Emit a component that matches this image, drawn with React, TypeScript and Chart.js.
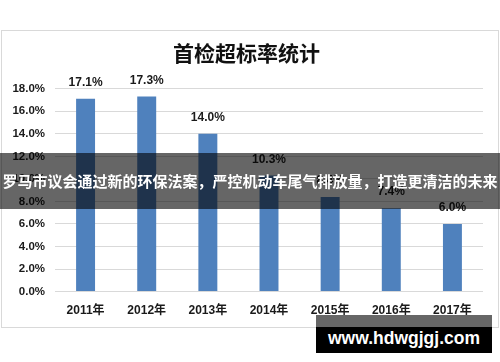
import React, { useEffect, useRef } from "react";
import { Chart, registerables } from "chart.js";

Chart.register(...registerables);

const TITLE = "首检超标率统计";
const years = ["2011年", "2012年", "2013年", "2014年", "2015年", "2016年", "2017年"];
const rates = [17.1, 17.3, 14.0, 10.3, 8.4, 7.4, 6.0];
const yTicks = [0, 2, 4, 6, 8, 10, 12, 14, 16, 18];
const BANNER = "罗马市议会通过新的环保法案，严控机动车尾气排放量，打造更清洁的未来";
const WATERMARK = "www.hdwgjgj.com";

const LATIN = '"Liberation Sans", "Noto Sans CJK SC", sans-serif';
const CJK = '"Noto Sans CJK SC", "Liberation Sans", sans-serif';

const framePlugin = {
  id: "frame",
  beforeDraw(chart: any) {
    const ctx = chart.ctx;
    ctx.save();
    ctx.fillStyle = "#ffffff";
    ctx.fillRect(0, 0, chart.width, chart.height);
    ctx.strokeStyle = "#D9D9D9";
    ctx.lineWidth = 1;
    ctx.strokeRect(1.5, 30.5, 497, 297);
    ctx.restore();
  },
};

const labelPlugin = {
  id: "barLabels",
  afterDatasetsDraw(chart: any) {
    const ctx = chart.ctx;
    const meta = chart.getDatasetMeta(0);
    ctx.save();
    ctx.font = `bold 12px ${LATIN}`;
    ctx.fillStyle = "#1a1a1a";
    ctx.textAlign = "center";
    ctx.textBaseline = "middle";
    meta.data.forEach((bar: any, i: number) => {
      ctx.fillText(rates[i].toFixed(1) + "%", bar.x, bar.y - 16);
    });
    ctx.restore();
  },
};

export default function App() {
  const ref = useRef<HTMLCanvasElement | null>(null);

  useEffect(() => {
    if (!ref.current) return;
    const chart = new Chart(ref.current, {
      type: "bar",
      data: {
        labels: years,
        datasets: [
          {
            data: rates,
            backgroundColor: "#4F81BD",
            borderWidth: 0,
            categoryPercentage: 1,
            barPercentage: 0.31,
          },
        ],
      },
      options: {
        animation: false,
        responsive: false,
        devicePixelRatio: 1,
        layout: { padding: { top: 40, left: 10, right: 17, bottom: 32 } },
        plugins: {
          legend: { display: false },
          tooltip: { enabled: false },
          title: {
            display: true,
            text: TITLE,
            color: "#111111",
            font: { family: CJK, size: 21, weight: "bold" },
            padding: { top: 0, bottom: 23.5 },
          },
        },
        scales: {
          x: {
            grid: { display: false, drawTicks: false },
            border: { display: false },
            ticks: {
              color: "#1a1a1a",
              font: { family: LATIN, size: 12, weight: "bold" },
              padding: 12,
              maxRotation: 0,
            },
          },
          y: {
            min: 0,
            max: 18,
            afterBuildTicks: (scale: any) => {
              scale.ticks = yTicks.map((v) => ({ value: v }));
            },
            afterFit: (scale: any) => {
              scale.width = 45;
            },
            grid: { color: "#D9D9D9", drawTicks: false, lineWidth: 1 },
            border: { display: false },
            ticks: {
              color: "#1a1a1a",
              font: { family: LATIN, size: 11.5, weight: "bold" },
              padding: 10,
              callback: (v: any) => Number(v).toFixed(1) + "%",
            },
          },
        },
      },
      plugins: [framePlugin, labelPlugin],
    });
    return () => chart.destroy();
  }, []);

  return (
    <div style={{ position: "absolute", left: 0, top: 0, width: 500, height: 362, background: "#fff", overflow: "hidden" }}>
      <canvas ref={ref} width={500} height={362} style={{ position: "absolute", left: 0, top: 0, width: 500, height: 362 }} />
      <div
        style={{
          position: "absolute",
          left: 0,
          top: 153,
          width: 500,
          height: 56,
          background: "rgba(0,0,0,0.6)",
          color: "#fff",
          fontFamily: CJK,
          fontWeight: "bold",
          fontSize: 15,
          lineHeight: "56px",
          textAlign: "center",
          whiteSpace: "nowrap",
        }}
      >
        {BANNER}
      </div>
      <div style={{ position: "absolute", left: 316, top: 315, width: 176, height: 12, background: "#666666" }} />
      <div
        style={{
          position: "absolute",
          left: 316,
          top: 327,
          width: 176,
          height: 26,
          background: "#000",
          color: "#fff",
          fontFamily: LATIN,
          fontWeight: "bold",
          fontSize: 17.5,
          lineHeight: "22px",
          textAlign: "center",
          whiteSpace: "nowrap",
        }}
      >
        {WATERMARK}
      </div>
    </div>
  );
}
